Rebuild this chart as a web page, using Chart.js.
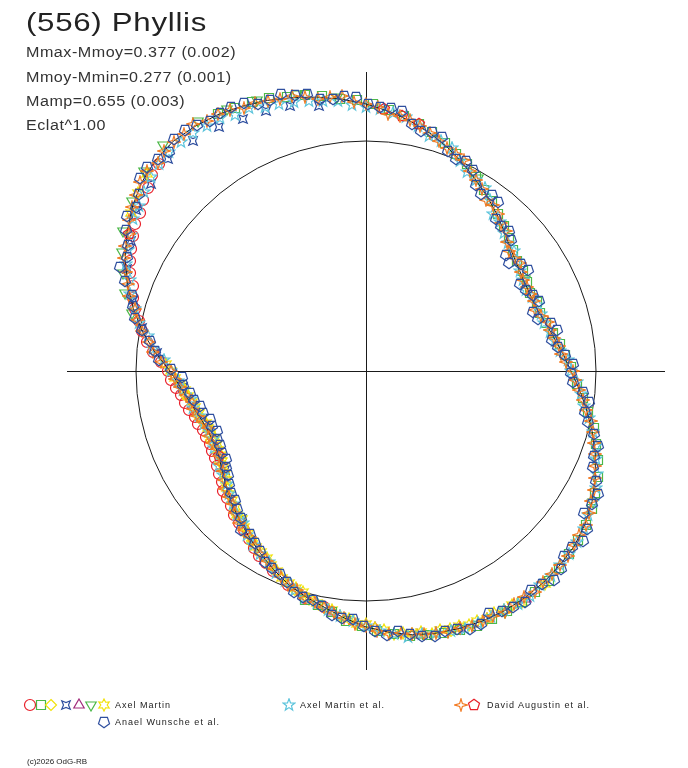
<!DOCTYPE html>
<html><head><meta charset="utf-8">
<script src="https://cdn.jsdelivr.net/npm/chart.js@4.4.1/dist/chart.umd.min.js"></script>
<style>
html,body{margin:0;padding:0;background:#fff;width:688px;height:768px;overflow:hidden;}
#wrap{position:relative;width:688px;height:768px;font-family:"Liberation Sans",Arial,sans-serif;color:#333;}
#c{position:absolute;left:0;top:0;}
.t{position:absolute;white-space:nowrap;line-height:1;transform-origin:0 0;}
#title{left:26px;top:9px;font-size:26px;letter-spacing:0.6px;color:#222;transform:scaleX(1.2);}
.stat{left:26px;font-size:14px;letter-spacing:0.45px;transform:scaleX(1.15);}
.leg{font-size:9px;letter-spacing:1px;color:#222;}
#foot{left:27px;top:758px;font-size:8px;color:#222;}
.icon{position:absolute;}
</style></head><body>
<div id="wrap">
<canvas id="c" width="688" height="768"></canvas>
<div class="t" id="title">(556) Phyllis</div>
<div class="t stat" style="top:45px">Mmax-Mmoy=0.377 (0.002)</div>
<div class="t stat" style="top:70px">Mmoy-Mmin=0.277 (0.001)</div>
<div class="t stat" style="top:94px">Mamp=0.655 (0.003)</div>
<div class="t stat" style="top:118px">Eclat^1.00</div>
<div class="t leg" style="left:115px;top:701px">Axel Martin</div>
<div class="t leg" style="left:300px;top:701px">Axel Martin et al.</div>
<div class="t leg" style="left:487px;top:701px">David Augustin et al.</div>
<div class="t leg" style="left:115px;top:718px">Anael Wunsche et al.</div>
<div class="t" id="foot">(c)2026 OdG-RB</div>
</div>
<script>
// ---- data: [rotation angle in degrees, relative flux radius] ----
const fitCurve = [[0,0.891],[5,0.860],[10,0.830],[15,0.808],[20,0.791],[25,0.787],[30,0.791],[35,0.803],[40,0.822],[45,0.852],[50,0.887],[55,0.922],[60,0.957],[65,0.996],[70,1.035],[75,1.071],[80,1.104],[85,1.134],[90,1.161],[95,1.186],[100,1.209],[105,1.231],[110,1.252],[115,1.271],[120,1.287],[125,1.298],[130,1.304],[135,1.295],[140,1.274],[145,1.241],[150,1.200],[155,1.155],[160,1.104],[165,1.047],[170,0.987],[175,0.920],[180,0.852],[185,0.810],[190,0.778],[195,0.752],[200,0.735],[205,0.732],[210,0.739],[215,0.762],[220,0.791],[225,0.822],[230,0.852],[235,0.884],[240,0.917],[245,0.952],[250,0.987],[255,1.016],[260,1.043],[265,1.078],[270,1.113],[275,1.140],[280,1.165],[285,1.180],[290,1.191],[295,1.199],[300,1.204],[305,1.204],[310,1.200],[315,1.193],[320,1.183],[325,1.162],[330,1.135],[335,1.100],[340,1.061],[345,1.018],[350,0.974],[355,0.932],[360,0.891]];

const anaelPentagon = [[2,0.90],[7,0.84],[12,0.85],[17,0.78],[22,0.81],[27,0.78],[32,0.83],[37,0.78],[42,0.85],[47,0.86],[52,0.93],[57,0.92],[62,0.99],[67,1.00],[72,1.07],[77,1.07],[82,1.14],[87,1.15],[92,1.19],[97,1.19],[102,1.23],[107,1.26],[112,1.25],[117,1.29],[122,1.28],[127,1.31],[132,1.28],[137,1.30],[142,1.25],[147,1.24],[152,1.17],[157,1.16],[162,1.07],[167,1.03],[172,0.95],[177,0.90],[182,0.80],[187,0.77],[192,0.74],[197,0.71],[202,0.70],[207,0.71],[212,0.72],[217,0.75],[222,0.79],[227,0.82],[232,0.88],[237,0.89],[242,0.94],[247,0.96],[252,1.01],[257,1.02],[262,1.07],[267,1.08],[272,1.13],[277,1.14],[282,1.18],[287,1.18],[292,1.21],[297,1.18],[302,1.21],[307,1.19],[312,1.22],[317,1.18],[322,1.20],[327,1.13],[332,1.14],[337,1.07],[342,1.06],[347,0.99],[352,0.98],[357,0.90],
[4.5,0.87],[9.5,0.82],[14.5,0.83],[19.5,0.77],[24.5,0.80],[29.5,0.77],[34.5,0.82],[39.5,0.79],[44.5,0.87],[49.5,0.87],[54.5,0.94],[59.5,0.94],[64.5,1.01],[69.5,1.02],[74.5,1.08],[79.5,1.09],[84.5,1.15],[89.5,1.16],[94.5,1.20],[99.5,1.20],[104.5,1.24],[109.5,1.25],[114.5,1.28],[119.5,1.29],[124.5,1.30],[129.5,1.31],[134.5,1.29],[139.5,1.29],[144.5,1.23],[149.5,1.21],[154.5,1.15],[159.5,1.12],[164.5,1.05],[169.5,0.99],[174.5,0.92],[179.5,0.85],[184.5,0.80],[189.5,0.76],[194.5,0.73],[199.5,0.71],[204.5,0.71],[209.5,0.72],[214.5,0.74],[219.5,0.77],[224.5,0.80],[229.5,0.84],[234.5,0.87],[239.5,0.91],[244.5,0.95],[249.5,0.98],[254.5,1.02],[259.5,1.04],[264.5,1.08],[269.5,1.11],[274.5,1.15],[279.5,1.16],[284.5,1.19],[289.5,1.19],[294.5,1.21],[299.5,1.20],[304.5,1.22],[309.5,1.20],[314.5,1.21],[319.5,1.18],[324.5,1.18],[329.5,1.14],[334.5,1.11],[339.5,1.06],[344.5,1.03],[349.5,0.97],[354.5,0.95],[359.5,0.89]];

const augustinStar4 = [[0,0.90],[5,0.85],[10,0.83],[15,0.82],[20,0.78],[25,0.79],[30,0.79],[35,0.82],[40,0.81],[45,0.86],[50,0.89],[55,0.91],[60,0.96],[65,1.01],[70,1.03],[75,1.07],[80,1.11],[85,1.12],[90,1.16],[95,1.20],[100,1.20],[105,1.24],[110,1.25],[115,1.26],[120,1.29],[125,1.31],[130,1.30],[135,1.28],[140,1.28],[145,1.24],[150,1.19],[155,1.16],[160,1.10],[165,1.04],[170,0.99],[175,0.93],[180,0.85],[185,0.81],[190,0.77],[195,0.76],[200,0.73],[205,0.74],[210,0.74],[215,0.76],[220,0.80],[225,0.82],[230,0.86],[235,0.88],[240,0.92],[245,0.95],[250,0.99],[255,1.02],[260,1.04],[265,1.08],[270,1.11],[275,1.15],[280,1.16],[285,1.18],[290,1.19],[295,1.20],[300,1.21],[305,1.20],[310,1.20],[315,1.19],[320,1.18],[325,1.17],[330,1.13],[335,1.10],[340,1.06],[345,1.02],[350,0.97],[355,0.93],
[2.5,0.87],[12.5,0.82],[22.5,0.79],[32.5,0.80],[42.5,0.83],[52.5,0.91],[62.5,0.98],[72.5,1.05],[82.5,1.12],[92.5,1.17],[102.5,1.22],[112.5,1.26],[122.5,1.29],[132.5,1.30],[142.5,1.26],[152.5,1.18],[162.5,1.08],[172.5,0.95],[182.5,0.83],[192.5,0.77],[202.5,0.74],[212.5,0.75],[222.5,0.81],[232.5,0.87],[242.5,0.93],[252.5,1.00],[262.5,1.06],[272.5,1.13],[282.5,1.17],[292.5,1.20],[302.5,1.20],[312.5,1.20],[322.5,1.17],[332.5,1.12],[342.5,1.04],[352.5,0.95],
[7.5,0.845],[17.5,0.80],[27.5,0.79],[37.5,0.81],[47.5,0.87],[57.5,0.94],[67.5,1.02],[77.5,1.09],[87.5,1.15],[97.5,1.20],[107.5,1.24],[117.5,1.28],[127.5,1.30],[137.5,1.29],[147.5,1.22],[157.5,1.13],[167.5,1.02],[177.5,0.89],[187.5,0.79],[197.5,0.74],[207.5,0.73],[217.5,0.78],[227.5,0.84],[237.5,0.90],[247.5,0.97],[257.5,1.03],[267.5,1.10],[277.5,1.15],[287.5,1.19],[297.5,1.20],[307.5,1.21],[317.5,1.19],[327.5,1.15],[337.5,1.08],[347.5,1.00],[357.5,0.91]];

const augustinPentagon = [[78,1.10],[82,1.12],[86,1.14],[150,1.19],[210,0.74]];

const martinEtAlStar5 = [[3,0.88],[9,0.83],[15,0.80],[21,0.80],[27,0.78],[33,0.80],[39,0.83],[45,0.85],[51,0.88],[57,0.95],[63,0.97],[69,1.04],[75,1.06],[81,1.12],[87,1.14],[93,1.16],[99,1.19],[105,1.21],[111,1.23],[117,1.25],[123,1.27],[129,1.28],[135,1.27],[141,1.24],[147,1.21],[153,1.16],[159,1.10],[165,1.04],[171,0.96],[177,0.88],[183,0.82],[189,0.77],[195,0.75],[201,0.73],[207,0.74],[213,0.76],[219,0.78],[225,0.82],[231,0.85],[237,0.90],[243,0.93],[249,0.98],[255,1.02],[261,1.05],[267,1.09],[273,1.13],[279,1.17],[285,1.18],[291,1.20],[297,1.20],[303,1.21],[309,1.20],[315,1.19],[321,1.18],[327,1.15],[333,1.12],[339,1.07],[345,1.02],[351,0.96],[357,0.92],
[0,0.89],[6,0.85],[12,0.82],[18,0.80],[24,0.79],[30,0.79],[36,0.81],[42,0.83],[48,0.87],[54,0.92],[60,0.96],[66,1.00],[72,1.05],[78,1.09],[84,1.13],[90,1.15],[96,1.18],[102,1.20],[108,1.22],[114,1.25],[120,1.27],[126,1.28],[132,1.28],[138,1.26],[144,1.22],[150,1.18],[156,1.14],[162,1.08],[168,1.01],[174,0.93],[180,0.85],[186,0.80],[192,0.77],[198,0.74],[204,0.73],[210,0.74],[216,0.77],[222,0.80],[228,0.84],[234,0.88],[240,0.92],[246,0.96],[252,1.00],[258,1.03],[264,1.07],[270,1.11],[276,1.15],[282,1.17],[288,1.19],[294,1.20],[300,1.20],[306,1.21],[312,1.20],[318,1.19],[324,1.17],[330,1.14],[336,1.10],[342,1.05],[348,0.99],[354,0.94]];

const martinSquare = [[1,0.89],[8,0.85],[15,0.81],[22,0.80],[29,0.80],[36,0.81],[43,0.85],[50,0.89],[57,0.94],[64,1.00],[71,1.05],[78,1.10],[85,1.14],[92,1.18],[99,1.21],[106,1.24],[113,1.27],[120,1.29],[255,1.03],[262,1.06],[269,1.11],[276,1.15],[283,1.18],[290,1.20],[297,1.21],[304,1.21],[311,1.21],[318,1.19],[325,1.17],[332,1.13],[339,1.08],[346,1.02],[353,0.95],
[4.5,0.87],[11.5,0.83],[18.5,0.80],[25.5,0.79],[32.5,0.81],[39.5,0.83],[46.5,0.87],[53.5,0.92],[60.5,0.97],[67.5,1.02],[74.5,1.08],[81.5,1.12],[88.5,1.16],[95.5,1.19],[102.5,1.23],[109.5,1.26],[116.5,1.28],[258.5,1.04],[265.5,1.09],[272.5,1.13],[279.5,1.17],[286.5,1.19],[293.5,1.21],[300.5,1.21],[307.5,1.21],[314.5,1.20],[321.5,1.18],[328.5,1.15],[335.5,1.11],[342.5,1.05],[349.5,0.98],[356.5,0.92]];

const martinCircle = [[135,1.27],[140,1.24],[145,1.20],[150,1.17],[155,1.13],[160,1.08],[165,1.04],[170,0.99],[175,0.93],[180,0.86],[185,0.83],[190,0.80],[195,0.77],[200,0.755],[205,0.75],[210,0.76],[215,0.78],[220,0.81],[225,0.83],[230,0.86],[235,0.89],[240,0.93],[245,0.96],[250,0.99],[255,1.02],[260,1.04],
[137.5,1.26],[142.5,1.22],[147.5,1.19],[152.5,1.15],[157.5,1.11],[162.5,1.06],[167.5,1.01],[172.5,0.96],[177.5,0.89],[182.5,0.85],[187.5,0.81],[192.5,0.79],[197.5,0.765],[202.5,0.755],[207.5,0.755],[212.5,0.77],[217.5,0.79],[222.5,0.82],[227.5,0.85],[232.5,0.87],[237.5,0.91],[242.5,0.94]];

const martinStar6 = [[178,0.87],[182,0.83],[186,0.79],[190,0.77],[194,0.75],[198,0.73],[202,0.73],[206,0.72],[210,0.73],[214,0.75],[218,0.77],[222,0.80],[226,0.82],[230,0.84],[234,0.87],[238,0.90],[242,0.92],[246,0.95],[250,0.98],[254,1.00],[258,1.03],[262,1.05],[266,1.08],[270,1.10],[274,1.13],[278,1.15],[282,1.16],[286,1.17],[290,1.18],[294,1.19],[298,1.19],[302,1.20],
[180,0.85],[184,0.81],[188,0.78],[192,0.76],[196,0.74],[200,0.73],[204,0.72],[208,0.73],[212,0.74],[216,0.76],[220,0.79],[224,0.81],[228,0.84],[232,0.86],[236,0.89],[240,0.91],[244,0.94],[248,0.97],[252,0.99],[256,1.02],[260,1.04],[264,1.07],[268,1.10],[272,1.12],[276,1.15],[280,1.16],[284,1.18],[288,1.18],[292,1.19],[296,1.20],[300,1.20],[304,1.21],[310,1.21],[138,1.28],[142,1.26],[146,1.23]];

const martinDiamond = [[188,0.79],[196,0.75],[204,0.74],[212,0.75],[220,0.79],[228,0.84],[236,0.89],[244,0.94],[252,1.00],[288,1.19]];

const martinStar4 = [[100,1.17],[106,1.20],[111,1.21],[116,1.22],[121,1.24],[127,1.25],[133,1.26],[139,1.24],[145,1.22],[151,1.17],[157,1.13],[163,1.06],[169,0.99],[175,0.91],[185,0.80],[200,0.73],[215,0.75],[230,0.84]];

const martinTriangle = [[262,1.06],[272,1.12],[281,1.17],[290,1.19],[296,1.20],[305,1.21]];

const martinTriangleDown = [[30,0.80],[60,0.97],[96,1.20],[104,1.24],[112,1.27],[118,1.29],[124,1.31],[132,1.32],[138,1.30],[144,1.26],[150,1.22],[154,1.18],[158,1.14],[162,1.10],[166,1.05],[300,1.21],[330,1.14]];

const seriesNames = ['Axel Martin','Axel Martin et al.','David Augustin et al.','Anael Wunsche et al.'];
const AXIS_LIMIT = 1.3;

// ---- marker drawing ----
const COL = {red:'#e8202a',green:'#4cb848',yellow:'#f2e20a',blue:'#2f4f9f',purple:'#a02c7c',cyan:'#5cc4dc',orange:'#f27a22'};
function marker(kind,color){
  const size=14, m=7;
  const c=document.createElement('canvas'); c.width=size; c.height=size;
  const g=c.getContext('2d'); g.strokeStyle=color; g.lineWidth=1.2;
  g.beginPath();
  const poly=(n,ro,ri,rot)=>{
    const k = ri ? n*2 : n;
    for(let i=0;i<k;i++){
      const r = ri ? (i%2 ? ri : ro) : ro;
      const a = rot + i*Math.PI*2/k;
      const x=m+r*Math.cos(a), y=m+r*Math.sin(a);
      if(i) g.lineTo(x,y); else g.moveTo(x,y);
    }
    g.closePath();
  };
  switch(kind){
    case 'circle': g.arc(m,m,5.5,0,Math.PI*2); break;
    case 'square': g.rect(m-4.5,m-4.5,9,9); break;
    case 'diamond': poly(4,5.5,0,-Math.PI/2); break;
    case 'star4d': poly(4,6,2.5,-Math.PI/4); break;
    case 'tri': poly(3,6,0,-Math.PI/2); break;
    case 'tridown': poly(3,6,0,Math.PI/2); break;
    case 'star6': poly(6,6,3.2,-Math.PI/2); break;
    case 'star5': poly(5,6.2,2.6,-Math.PI/2); break;
    case 'star4': poly(4,6.2,2,-Math.PI/2); break;
    case 'pentUp': poly(5,5.8,0,-Math.PI/2); break;
    case 'pentDown': poly(5,5.8,0,Math.PI/2); break;
  }
  g.stroke();
  return c;
}
function toXY(arr){
  return arr.map(([a,r])=>({x:r*Math.cos(a*Math.PI/180), y:r*Math.sin(a*Math.PI/180)}));
}
function pts(label,arr,kind,color){
  return {type:'scatter',label,data:toXY(arr),pointStyle:marker(kind,color),pointRadius:5,showLine:false,clip:false};
}

const datasets = [
  pts(seriesNames[3],anaelPentagon,'pentDown',COL.blue),
  pts(seriesNames[2],augustinStar4,'star4',COL.orange),
  pts(seriesNames[2],augustinPentagon,'pentUp',COL.red),
  {type:'line',label:'fit',data:toXY(fitCurve),borderColor:'#1a1a1a',borderWidth:1,pointRadius:0,fill:false,tension:0,clip:false},
  pts(seriesNames[1],martinEtAlStar5,'star5',COL.cyan),
  pts(seriesNames[0],martinSquare,'square',COL.green),
  pts(seriesNames[0],martinStar6,'star6',COL.yellow),
  pts(seriesNames[0],martinDiamond,'diamond',COL.yellow),
  pts(seriesNames[0],martinStar4,'star4d',COL.blue),
  pts(seriesNames[0],martinTriangle,'tri',COL.purple),
  pts(seriesNames[0],martinTriangleDown,'tridown',COL.green),
  pts(seriesNames[0],martinCircle,'circle',COL.red)
];

const framePlugin = {
  id:'frame',
  beforeDatasetsDraw(chart){
    const {ctx,scales:{x,y}} = chart;
    const cx=x.getPixelForValue(0), cy=y.getPixelForValue(0);
    ctx.save();
    ctx.strokeStyle='#1a1a1a'; ctx.lineWidth=1;
    ctx.beginPath();
    ctx.moveTo(x.getPixelForValue(-AXIS_LIMIT),Math.round(cy)+0.5);
    ctx.lineTo(x.getPixelForValue(AXIS_LIMIT),Math.round(cy)+0.5);
    ctx.moveTo(Math.round(cx)+0.5,y.getPixelForValue(AXIS_LIMIT));
    ctx.lineTo(Math.round(cx)+0.5,y.getPixelForValue(-AXIS_LIMIT));
    ctx.stroke();
    ctx.beginPath();
    ctx.arc(cx,cy,x.getPixelForValue(1)-cx,0,Math.PI*2);
    ctx.stroke();
    ctx.restore();
    ctx.imageSmoothingEnabled = false;
  }
};

new Chart(document.getElementById('c'),{
  type:'scatter',
  data:{datasets},
  options:{
    responsive:false,
    animation:false,
    events:[],
    layout:{padding:{left:67,right:23,top:72,bottom:98}},
    scales:{
      x:{type:'linear',min:-AXIS_LIMIT,max:AXIS_LIMIT,display:false},
      y:{type:'linear',min:-AXIS_LIMIT,max:AXIS_LIMIT,display:false}
    },
    plugins:{legend:{display:false},tooltip:{enabled:false},title:{display:false}}
  },
  plugins:[framePlugin]
});

// legend icons (HTML canvases placed beside the text)
const legendIcons = [
  ['circle',COL.red,29.5,705],['square',COL.green,41,705],['diamond',COL.yellow,51,705],
  ['star4d',COL.blue,66,705],['tri',COL.purple,78.5,705],['tridown',COL.green,91,705],['star6',COL.yellow,104,705],
  ['star5',COL.cyan,288.5,705],
  ['star4',COL.orange,461,705],['pentUp',COL.red,473.5,705],
  ['pentDown',COL.blue,104,721.5]
];
const wrap=document.getElementById('wrap');
legendIcons.forEach(([k,c,x,y])=>{
  const cv=marker(k,c); cv.className='icon';
  cv.style.left=(x-cv.width/2)+'px'; cv.style.top=(y-cv.height/2)+'px';
  wrap.appendChild(cv);
});
</script>
</body></html>
